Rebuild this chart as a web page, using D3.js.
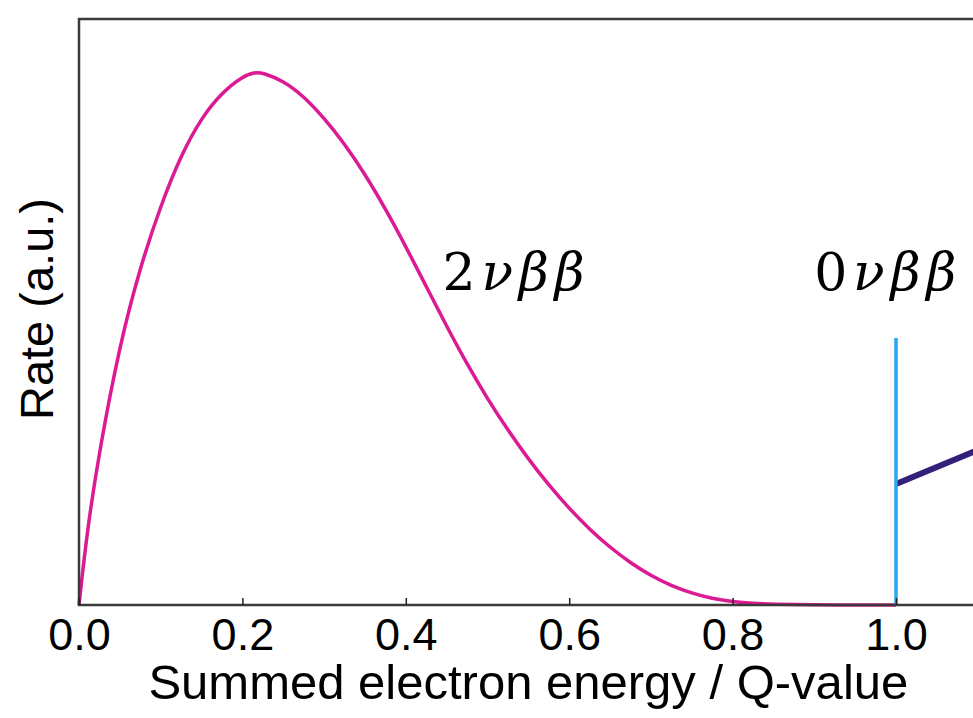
<!DOCTYPE html>
<html lang="en">
<head>
    <meta charset="utf-8">
    <title>Double beta decay spectrum</title>
    <script src="https://d3js.org/d3.v7.min.js"></script>
    <style>
        body { margin: 0; background: white; }
    </style>
</head>
<body>
    <div id="chart"></div>
    <script>
        // 2vbb summed energy spectrum (x in units of Q)
        var energy = [0, 0.01, 0.025, 0.05, 0.075, 0.1, 0.125, 0.15, 0.175, 0.2, 0.215, 0.225, 0.25,
            0.275, 0.3, 0.325, 0.35, 0.375, 0.4, 0.425, 0.45, 0.475, 0.5, 0.525, 0.55,
            0.575, 0.6, 0.625, 0.65, 0.675, 0.7, 0.725, 0.75, 0.775, 0.8, 0.825, 0.85, 0.9, 0.95, 1.0];
        var rate2nu = [0, 0.14, 0.29, 0.49, 0.635, 0.75, 0.845, 0.915, 0.962, 0.992, 1.0, 0.999, 0.984,
            0.955, 0.914, 0.866, 0.809, 0.744, 0.673, 0.598, 0.523, 0.452, 0.387, 0.328, 0.274,
            0.225, 0.181, 0.142, 0.108, 0.079, 0.055, 0.036, 0.022, 0.012, 0.006, 0.003, 0.0015, 0.0003, 0, 0];

        // 0vbb peak at Q and the line leaving it to the right
        var peak0nu = [{ x: 1.0, y: 0 }, { x: 1.0, y: 0.501 }];
        var slope0nu = [{ x: 1.0, y: 0.227 }, { x: 1.1, y: 0.291 }];

        var tickValues = [0, 0.2, 0.4, 0.6, 0.8, 1.0];
        var labels = [{ num: "2", greek: "νββ", x: 0.445 }, { num: "0", greek: "νββ", x: 0.9 }];

        var W = 973, H = 718;
        var x = d3.scaleLinear().domain([0, 1.1]).range([79, 977.7]);
        var y = d3.scaleLinear().domain([0, 1.1]).range([605, 19]);

        var svg = d3.select("#chart").append("svg")
            .attr("width", W)
            .attr("height", H);

        var line = d3.line()
            .x(function(d) { return x(d.x); })
            .y(function(d) { return y(d.y); });

        var spec = energy.map(function(e, i) { return { x: e, y: rate2nu[i] }; });

        svg.append("path")
            .datum(spec)
            .attr("fill", "none")
            .attr("stroke", "#dc1a94")
            .attr("stroke-width", 3.5)
            .attr("d", line.curve(d3.curveBasis));

        svg.append("path")
            .datum(slope0nu)
            .attr("fill", "none")
            .attr("stroke", "#33207a")
            .attr("stroke-width", 6)
            .attr("d", line.curve(d3.curveLinear));

        svg.append("path")
            .datum(peak0nu)
            .attr("fill", "none")
            .attr("stroke", "#22aaf2")
            .attr("stroke-width", 3.5)
            .attr("d", line.curve(d3.curveLinear));

        // frame (left, top, bottom)
        svg.append("path")
            .attr("fill", "none")
            .attr("stroke", "#3a3a3a")
            .attr("stroke-width", 2.5)
            .attr("d", "M" + (x(1.1) + 5) + "," + y(1.1) + "H" + x(0) + "V" + y(0) + "H" + (x(1.1) + 5));

        var xAxis = svg.append("g")
            .attr("transform", "translate(0," + y(0) + ")")
            .call(d3.axisBottom(x)
                .tickValues(tickValues)
                .tickFormat(d3.format(".1f"))
                .tickSizeInner(-7)
                .tickSizeOuter(0)
                .tickPadding(13));
        xAxis.select(".domain").remove();
        xAxis.selectAll(".tick line").attr("stroke", "#222").attr("stroke-width", 1.5);
        xAxis.selectAll(".tick text")
            .attr("fill", "#000")
            .style("font-family", "'Liberation Sans', Arial, sans-serif")
            .style("font-size", "45px");

        svg.append("text")
            .attr("x", x(0.55))
            .attr("y", 699)
            .attr("text-anchor", "middle")
            .style("font-family", "'Liberation Sans', Arial, sans-serif")
            .style("font-size", "49px")
            .text("Summed electron energy / Q-value");

        svg.append("text")
            .attr("transform", "translate(53," + 309 + ") rotate(-90)")
            .attr("text-anchor", "middle")
            .style("font-family", "'Liberation Sans', Arial, sans-serif")
            .style("font-size", "47px")
            .text("Rate (a.u.)");

        // math-style labels
        labels.forEach(function(l) {
            var t = svg.append("text")
                .attr("x", x(l.x))
                .attr("y", 290)
                .attr("textLength", 142)
                .attr("lengthAdjust", "spacing")
                .style("font-family", "'DejaVu Serif', serif")
                .style("font-size", "52px");
            t.append("tspan").text(l.num);
            t.append("tspan").style("font-style", "italic").text(l.greek);
        });
    </script>
</body>
</html>
